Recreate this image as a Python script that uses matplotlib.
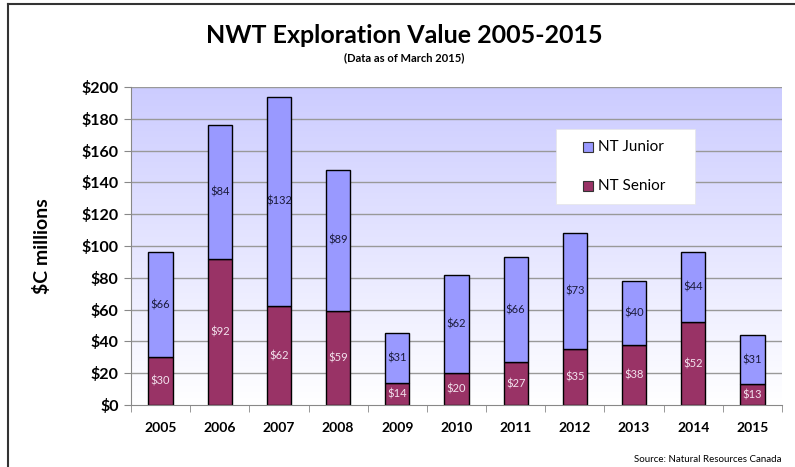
import matplotlib
matplotlib.use('Agg')
import matplotlib.pyplot as plt
import numpy as np
from matplotlib.colors import LinearSegmentedColormap
from matplotlib.lines import Line2D
from matplotlib.patches import Rectangle

plt.rcParams['font.family'] = ['Lato', 'DejaVu Sans']

years = ['2005', '2006', '2007', '2008', '2009', '2010', '2011', '2012', '2013', '2014', '2015']
senior = [30, 92, 62, 59, 14, 20, 27, 35, 38, 52, 13]
junior = [66, 84, 132, 89, 31, 62, 66, 73, 40, 44, 31]
y_ticks = [0, 20, 40, 60, 80, 100, 120, 140, 160, 180, 200]
series_names = ['NT Junior', 'NT Senior']

junior_color = '#9999FF'
senior_color = '#993366'

W, H = 795, 467
fig = plt.figure(figsize=(W / 100, H / 100), dpi=100)
ax = fig.add_axes([131 / W, 1 - 405 / H, 651 / W, 318 / H])

x = np.arange(len(years))

# background gradient: lavender at top fading to white
grad = np.linspace(0, 1, 256).reshape(-1, 1)
cmap = LinearSegmentedColormap.from_list('bg', ['#FFFFFF', '#CCCCFF'])
ax.imshow(grad, extent=[-0.5, len(years) - 0.5, 0, 200], origin='lower',
          aspect='auto', cmap=cmap, zorder=0)

for t in y_ticks[1:]:
    ax.axhline(t, color='#999999', linewidth=1, zorder=1)

ax.bar(x, senior, width=0.41, color=senior_color, edgecolor='black', linewidth=1, zorder=2)
ax.bar(x, junior, width=0.41, bottom=senior, color=junior_color, edgecolor='black',
       linewidth=1, zorder=2)

for i in range(len(years)):
    ax.text(x[i], senior[i] / 2, '$' + str(senior[i]), ha='center', va='center',
            fontsize=8, color='#F3E3EE', zorder=3)
    ax.text(x[i], senior[i] + junior[i] / 2, '$' + str(junior[i]), ha='center', va='center',
            fontsize=8, color='#1a1a3a', zorder=3)

ax.set_xlim(-0.5, len(years) - 0.5)
ax.set_ylim(0, 200)
ax.set_yticks(y_ticks)
ax.set_yticklabels(['$' + str(t) for t in y_ticks], fontsize=11.5, fontweight='bold')
ax.set_xticks(x)
ax.set_xticklabels(years, fontsize=10, fontweight='bold')
ax.set_xticks(np.arange(len(years) + 1) - 0.5, minor=True)
ax.tick_params(axis='x', which='major', length=0, pad=12)
ax.tick_params(axis='x', which='minor', length=5, color='#888888')
ax.tick_params(axis='y', length=5, color='#888888', pad=4)

for s in ['top', 'right']:
    ax.spines[s].set_visible(False)
for s in ['left', 'bottom']:
    ax.spines[s].set_color('#888888')
    ax.spines[s].set_zorder(4)

ax.set_ylabel('$C millions', fontsize=14, fontweight='bold', labelpad=22)

# legend box drawn by hand (white box, squares and labels)
fig.add_artist(Rectangle((556 / W, 1 - 204 / H), 139 / W, 75 / H, transform=fig.transFigure,
                         facecolor='white', edgecolor='#E6E6E6', linewidth=0.5, zorder=5))
for name, col, yc in zip(series_names, [junior_color, senior_color], [147, 186]):
    fig.add_artist(Rectangle((583 / W, 1 - (yc + 5) / H), 10 / W, 10 / H,
                             transform=fig.transFigure, facecolor=col,
                             edgecolor='#333333', linewidth=0.8, zorder=6))
    fig.text(598 / W, 1 - yc / H, name, ha='left', va='center', fontsize=11, zorder=6)

fig.text(0.509, 0.925, 'NWT Exploration Value 2005-2015', ha='center', va='center',
         fontsize=18, fontweight='bold')
fig.text(0.509, 0.877, '(Data as of March 2015)', ha='center', va='center',
         fontsize=8, fontweight='bold')
fig.text(0.983, 0.017, 'Source: Natural Resources Canada', ha='right', va='center',
         fontsize=7)

# outer frame lines (top and left)
fig.add_artist(Line2D([8 / W, 1], [1 - 4 / H, 1 - 4 / H], color='#333333', linewidth=1.5))
fig.add_artist(Line2D([8 / W, 8 / W], [0, 1 - 4 / H], color='#333333', linewidth=1.5))

fig.savefig('out.png', dpi=100)
